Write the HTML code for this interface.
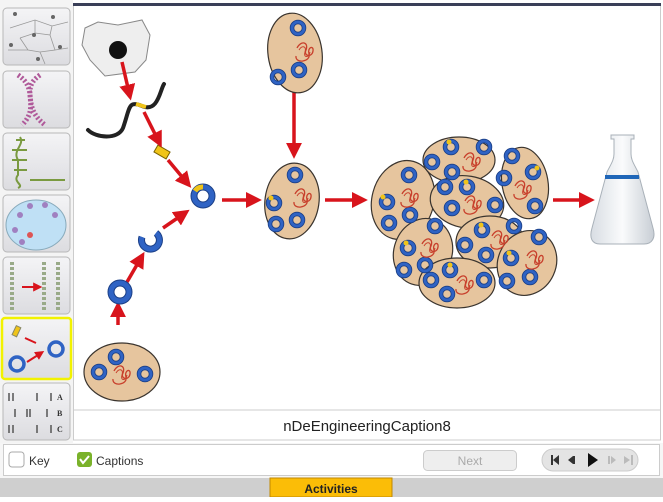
<!DOCTYPE html>
<html><head><style>
body{margin:0;width:663px;height:497px;overflow:hidden;background:#fff;font-family:"Liberation Sans",sans-serif;}
</style></head><body>
<svg width="663" height="497" viewBox="0 0 663 497" xmlns="http://www.w3.org/2000/svg">
<defs>
<linearGradient id="bg" x1="0" y1="0" x2="0" y2="1"><stop offset="0" stop-color="#f4f4f6"/><stop offset="1" stop-color="#dcdce0"/></linearGradient>
<marker id="ah" viewBox="0 0 10 10" refX="2" refY="5" markerWidth="4.6" markerHeight="4.6" orient="auto"><path d="M0,0L10,5L0,10z" fill="#d8141c"/></marker>
<linearGradient id="fl" x1="0" y1="0" x2="1" y2="0"><stop offset="0" stop-color="#d8dde3"/><stop offset=".5" stop-color="#fafbfc"/><stop offset="1" stop-color="#c8ced5"/></linearGradient>
<g id="ring"><circle r="6" fill="none" stroke="#1b3f86" stroke-width="4.5"/><circle r="6" fill="none" stroke="#2f63c4" stroke-width="2.8"/></g>
<g id="sq"><path d="M-8,-4c4,-8 12,-6 9,2c-3,6 6,8 7,1c1,-6 -6,-4 -4,3c2,8 -14,10 -13,2" fill="none" stroke="#c8402c" stroke-width="1.3"/><path d="M-6,-2c3,-5 8,-4 6,2c-2,6 4,6 5,0" fill="none" stroke="#c8402c" stroke-width="1"/></g>
</defs>
<rect width="663" height="497" fill="#fff"/>
<!-- sidebar -->
<rect x="0" y="0" width="73" height="443" fill="#f4f4f4"/>
<g stroke="#b8b8b8" fill="url(#bg)">
<rect x="3" y="8" width="67" height="57" rx="4"/>
<rect x="3" y="71" width="67" height="57" rx="4"/>
<rect x="3" y="133" width="67" height="57" rx="4"/>
<rect x="3" y="195" width="67" height="57" rx="4"/>
<rect x="3" y="257" width="67" height="57" rx="4"/>
<rect x="3" y="383" width="67" height="57" rx="4"/>
</g>
<rect x="2" y="318" width="69" height="61" rx="3" fill="url(#bg)" stroke="#f2f200" stroke-width="2.5"/>
<g stroke="#999" fill="none" stroke-width=".8"><path d="M10,28L35,20L52,26L68,22M20,38L35,33L50,35L55,50L40,52L28,50L20,38M8,50L28,50M40,52L45,64M55,50L68,48M35,20L35,33M52,26L50,35"/></g>
<g fill="#666"><circle cx="15" cy="14" r="2"/><circle cx="53" cy="17" r="2"/><circle cx="34" cy="35" r="2"/><circle cx="11" cy="45" r="2"/><circle cx="60" cy="47" r="2"/><circle cx="38" cy="59" r="2"/></g>
<path d="M18,75C40,90 20,105 45,125M40,75C18,90 42,105 22,125" stroke="#b05a9a" stroke-width="5" fill="none" stroke-dasharray="2 2"/>
<path d="M20,137C25,145 12,150 18,160L18,175C12,182 25,185 18,188M16,140L25,140M12,150L27,150M12,160L27,160M14,170L27,170M30,180L65,180" stroke="#7a9a40" stroke-width="2" fill="none"/>
<ellipse cx="36" cy="225" rx="30" ry="25" fill="#bfe0f5" stroke="#8ab"/>
<g fill="#a080c0"><circle cx="20" cy="215" r="3"/><circle cx="30" cy="206" r="3"/><circle cx="45" cy="205" r="3"/><circle cx="55" cy="215" r="3"/><circle cx="15" cy="230" r="3"/><circle cx="22" cy="242" r="3"/><circle cx="30" cy="235" r="3" fill="#d55"/></g>
<g stroke="#9a8" stroke-width="4" fill="none" stroke-dasharray="3 2"><path d="M12,262V312M44,262V312M58,262V312"/></g>
<path d="M22,287H35" stroke="#d8141c" stroke-width="2" marker-end="url(#ah)"/>
<rect x="14" y="326" width="5" height="10" fill="#f0c419" stroke="#886" transform="rotate(25 16 331)"/>
<path d="M25,338L36,343M27,362L38,355" stroke="#d8141c" stroke-width="2" marker-end="url(#ah)"/>
<circle cx="17" cy="364" r="7" fill="none" stroke="#2f63c4" stroke-width="3.5"/>
<circle cx="56" cy="349" r="7" fill="none" stroke="#2f63c4" stroke-width="3.5"/>
<g fill="#333" font-size="8" font-weight="bold" font-family="Liberation Serif,serif"><path d="M9,393v8M13,393v8M37,393v8M51,393v8M15,409v8M27,409v8M30,409v8M47,409v8M9,425v8M13,425v8M37,425v8M51,425v8" stroke="#555" stroke-width="1.5"/><text x="57" y="400">A</text><text x="57" y="416">B</text><text x="57" y="432">C</text></g>
<!-- main panel -->
<rect x="73.5" y="5" width="587" height="405" fill="#fff" stroke="#ccc"/>
<rect x="73" y="3" width="588" height="3" fill="#3a3f58"/>
<rect x="73.5" y="410" width="587" height="30" fill="#fff" stroke="#ccc"/>
<text x="367" y="431" font-size="15" text-anchor="middle" fill="#222">nDeEngineeringCaption8</text>
<!-- bottom bar -->
<rect x="0" y="443" width="663" height="35" fill="#f6f6f6"/>
<rect x="3.5" y="444.5" width="656" height="31" fill="#fff" stroke="#ccc"/>
<rect x="9" y="452" width="15" height="15" rx="3" fill="#fff" stroke="#aaa"/>
<text x="29" y="465" font-size="12" fill="#333">Key</text>
<rect x="77" y="452" width="15" height="15" rx="3" fill="#7ab22a"/>
<path d="M80,459l3,4l6,-7" stroke="#fff" stroke-width="2" fill="none"/>
<text x="96" y="465" font-size="12" fill="#333">Captions</text>
<rect x="423.5" y="450.5" width="93" height="20" rx="4" fill="#eee" stroke="#ccc"/>
<text x="470" y="465" font-size="12" fill="#aaa" text-anchor="middle">Next</text>
<rect x="542" y="449" width="96" height="22" rx="11" fill="#e4e4e4" stroke="#ccc"/>
<g fill="#333"><path d="M551,455h2v10h-2zM553,460l6,-5v10z"/><path d="M568,460l5,-4v8zM573,456h2v8h-2z"/><path d="M588,453l10,7l-10,7z" fill="#111"/></g>
<g fill="#bbb"><path d="M608,456h2v8h-2zM611,456l5,4l-5,4z"/><path d="M624,456l6,4l-6,4zM631,455h2v10h-2z"/></g>
<rect x="0" y="478" width="663" height="19" fill="#cfcfcf"/>
<rect x="270" y="478" width="122" height="19" fill="#fbbd07" stroke="#c08800"/>
<text x="331" y="493" font-size="12" font-weight="bold" text-anchor="middle" fill="#222">Activities</text>
<!-- diagram -->
<path d="M85,28L98,22L118,25L142,20L150,35L146,60L135,72L105,76L90,60L82,45z" fill="#eee" stroke="#888"/>
<circle cx="118" cy="50" r="9" fill="#111"/>
<path d="M88,130C96,138 118,140 123,128C130,108 128,100 142,106C158,113 160,90 164,84" stroke="#222" stroke-width="4" fill="none" stroke-linecap="round"/>
<path d="M136,104l10,3" stroke="#f0c419" stroke-width="4"/>
<rect x="155" y="148" width="14" height="8" fill="#f0c419" stroke="#7a6200" transform="rotate(30 162 152)"/>
<g stroke="#d8141c" stroke-width="3.5" fill="none" marker-end="url(#ah)">
<path d="M122,62L128,88"/>
<path d="M144,112L156,136"/>
<path d="M168,160L183,178"/>
<path d="M118,325L118,314"/>
<path d="M127,282L138,263"/>
<path d="M163,228L179,217"/>
<path d="M222,200L249,200"/>
<path d="M294,92L294,146"/>
<path d="M325,200L355,200"/>
<path d="M553,200L582,200"/>
</g>
<!-- plasmids -->
<circle cx="203" cy="196" r="9" fill="none" stroke="#1b3f86" stroke-width="7"/>
<circle cx="203" cy="196" r="9" fill="none" stroke="#2f63c4" stroke-width="5"/>
<path d="M195,191A9,9 0 0 1 203,187" stroke="#f0c419" stroke-width="5" fill="none"/>
<path d="M156,233A9,9 0 1 1 142,237" fill="none" stroke="#1b3f86" stroke-width="7"/>
<path d="M156,233A9,9 0 1 1 142,237" fill="none" stroke="#2f63c4" stroke-width="5"/>
<circle cx="120" cy="292" r="9" fill="none" stroke="#1b3f86" stroke-width="7"/>
<circle cx="120" cy="292" r="9" fill="none" stroke="#2f63c4" stroke-width="5"/>
<!-- cells -->
<g fill="#e6c59e" stroke="#3a342e" stroke-width="1.2">
<ellipse cx="122" cy="372" rx="38" ry="29"/>
<ellipse cx="295" cy="53" rx="27" ry="40" transform="rotate(-8 295 53)"/>
<ellipse cx="292" cy="201" rx="27" ry="38" transform="rotate(8 292 201)"/>
<ellipse cx="403" cy="200" rx="31" ry="40" transform="rotate(15 403 200)"/>
<ellipse cx="459" cy="160" rx="36" ry="23"/>
<ellipse cx="525" cy="183" rx="23" ry="36" transform="rotate(-10 525 183)"/>
<ellipse cx="467" cy="202" rx="37" ry="26" transform="rotate(10 467 202)"/>
<ellipse cx="423" cy="252" rx="29" ry="34" transform="rotate(20 423 252)"/>
<ellipse cx="490" cy="242" rx="34" ry="26"/>
<ellipse cx="527" cy="263" rx="29" ry="33" transform="rotate(25 527 263)"/>
<ellipse cx="457" cy="283" rx="38" ry="25"/>
</g>
<g>
<use href="#ring" x="116" y="357"/><use href="#ring" x="99" y="372"/><use href="#ring" x="145" y="374"/><use href="#sq" x="122" y="375"/>
<use href="#ring" x="298" y="28"/><use href="#ring" x="278" y="77"/><use href="#ring" x="299" y="70"/><use href="#sq" x="305" y="52"/>
<use href="#ring" x="295" y="175"/><use href="#ring" x="274" y="203"/><use href="#ring" x="276" y="224"/><use href="#ring" x="297" y="220"/><use href="#sq" x="303" y="198"/>
<use href="#ring" x="409" y="175"/><use href="#ring" x="387" y="202"/><use href="#ring" x="389" y="223"/><use href="#ring" x="410" y="215"/><use href="#sq" x="410" y="198"/>
<use href="#ring" x="451" y="147"/><use href="#ring" x="484" y="147"/><use href="#ring" x="432" y="162"/><use href="#ring" x="452" y="172"/><use href="#sq" x="472" y="162"/>
<use href="#ring" x="512" y="156"/><use href="#ring" x="533" y="172"/><use href="#ring" x="504" y="178"/><use href="#ring" x="535" y="206"/><use href="#sq" x="523" y="190"/>
<use href="#ring" x="445" y="187"/><use href="#ring" x="467" y="187"/><use href="#ring" x="452" y="208"/><use href="#ring" x="495" y="205"/><use href="#sq" x="473" y="205"/>
<use href="#ring" x="408" y="248"/><use href="#ring" x="435" y="226"/><use href="#ring" x="404" y="270"/><use href="#ring" x="425" y="265"/><use href="#sq" x="430" y="248"/>
<use href="#ring" x="482" y="230"/><use href="#ring" x="465" y="245"/><use href="#ring" x="486" y="255"/><use href="#ring" x="514" y="226"/><use href="#sq" x="500" y="240"/>
<use href="#ring" x="511" y="258"/><use href="#ring" x="539" y="237"/><use href="#ring" x="507" y="281"/><use href="#ring" x="530" y="277"/><use href="#sq" x="535" y="260"/>
<use href="#ring" x="431" y="280"/><use href="#ring" x="450" y="270"/><use href="#ring" x="484" y="280"/><use href="#ring" x="447" y="294"/><use href="#sq" x="465" y="285"/>
</g>
<g fill="#f0c419"><circle cx="449" cy="142" r="2.5"/><circle cx="537" cy="168" r="2.5"/><circle cx="466" cy="182" r="2.5"/><circle cx="383" cy="197" r="2.5"/><circle cx="406" cy="243" r="2.5"/><circle cx="481" cy="225" r="2.5"/><circle cx="509" cy="253" r="2.5"/><circle cx="450" cy="265" r="2.5"/><circle cx="271" cy="198" r="2.5"/></g>
<!-- flask -->
<path d="M611,135H634V139H631V154C631,160 634,164 638,172L653,228C656,238 652,244 644,244H600C592,244 589,238 592,228L607,172C611,164 614,160 614,154V139H611z" fill="url(#fl)" stroke="#a8b0b8"/>
<path d="M605,177H639" stroke="#1f66b8" stroke-width="4"/>
</svg>
</body></html>
